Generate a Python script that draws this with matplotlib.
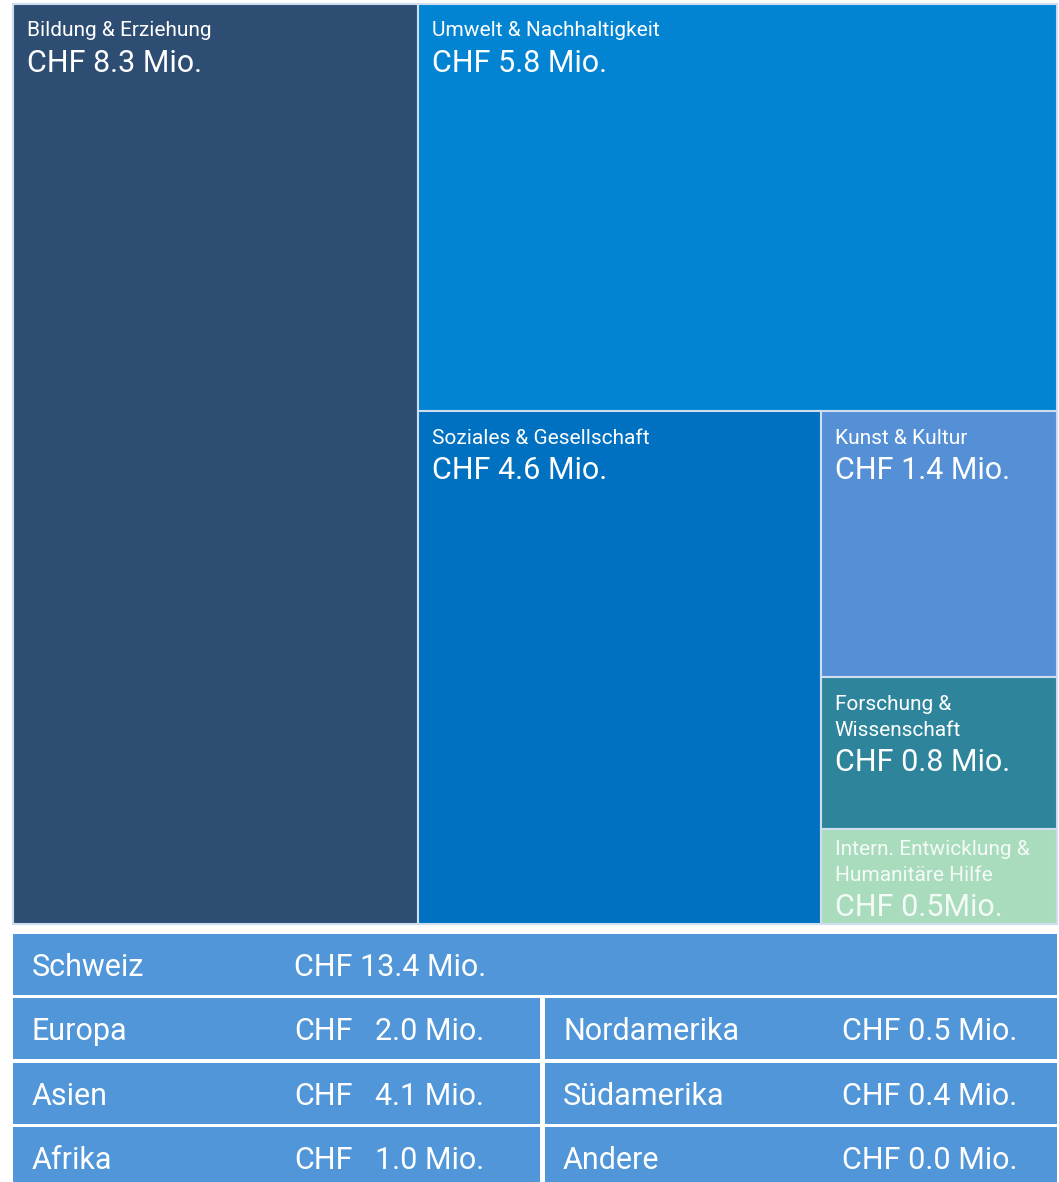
import matplotlib.pyplot as plt
from matplotlib.patches import Rectangle

plt.rcParams['font.family'] = ['Roboto', 'DejaVu Sans']

# Vergabungen nach Themen (CHF Mio.)
themen = ['Bildung & Erziehung', 'Umwelt & Nachhaltigkeit', 'Soziales & Gesellschaft',
          'Kunst & Kultur', 'Forschung &\nWissenschaft',
          'Intern. Entwicklung &\nHumanitäre Hilfe']
themen_werte = [8.3, 5.8, 4.6, 1.4, 0.8, 0.5]
themen_text = ['CHF 8.3 Mio.', 'CHF 5.8 Mio.', 'CHF 4.6 Mio.', 'CHF 1.4 Mio.',
               'CHF 0.8 Mio.', 'CHF 0.5Mio.']
themen_farben = ['#2d4d73', '#0284d2', '#0070c0', '#5590d6', '#2e849b', '#a9dcbd']

# Vergabungen nach Regionen
regionen_links = ['Schweiz', 'Europa', 'Asien', 'Afrika']
werte_links = [13.4, 2.0, 4.1, 1.0]
regionen_rechts = ['Nordamerika', 'Südamerika', 'Andere']
werte_rechts = [0.5, 0.4, 0.0]

W, H = 1059, 1182
fig = plt.figure(figsize=(W / 100, H / 100), dpi=100)
ax = fig.add_axes([0, 0, 1, 1])
ax.set_xlim(0, W)
ax.set_ylim(H, 0)
ax.axis('off')

# treemap box
x0, y0, bw, bh = 13, 4, 1044, 920


def layout(vals, x, y, w, h, vertical):
    # first three items alternate direction, the rest are stacked in the last strip
    rects = []
    for i, v in enumerate(vals):
        rest = sum(vals[i:])
        if i == len(vals) - 1:
            rects.append((x, y, w, h))
            break
        if vertical:
            ww = w * v / rest
            rects.append((x, y, ww, h))
            x, w = x + ww, w - ww
        else:
            hh = h * v / rest
            rects.append((x, y, w, hh))
            y, h = y + hh, h - hh
        if i < 3:
            vertical = not vertical
    return rects


rects = layout(themen_werte, x0, y0, bw, bh, True)

for (rx, ry, rw, rh), name, txt, col in zip(rects, themen, themen_text, themen_farben):
    ax.add_patch(Rectangle((rx, ry), rw, rh, facecolor=col, edgecolor='#cfdeee', lw=1.5))
    tc = 'white' if col != '#a9dcbd' else '#f4fbf7'
    lines = name.split('\n')
    # small boxes get their text pulled up so it fits
    cy = ry + (27 if rh > 110 else 20)
    for ln in lines:
        ax.text(rx + 14, cy, ln, color=tc, fontsize=15, va='center', ha='left')
        cy += 26
    ax.text(rx + 14, cy - 26 + 32, txt, color=tc, fontsize=22, va='center', ha='left')

# region table
tab_col = '#5096d8'
row_tops = [934, 998, 1063, 1127]
row_h = 61
for i, (name, val) in enumerate(zip(regionen_links, werte_links)):
    top = row_tops[i]
    cy = top + row_h / 2 + 3
    if i == 0:
        ax.add_patch(Rectangle((13, top), 1044, row_h, facecolor=tab_col, lw=0))
        ax.text(32, cy, name, color='white', fontsize=22, va='center')
        ax.text(294, cy, 'CHF %.1f Mio.' % val, color='white', fontsize=22, va='center')
    else:
        ax.add_patch(Rectangle((13, top), 527, row_h, facecolor=tab_col, lw=0))
        ax.text(32, cy, name, color='white', fontsize=22, va='center')
        ax.text(294, cy, 'CHF', color='white', fontsize=22, va='center')
        ax.text(484, cy, '%.1f Mio.' % val, color='white', fontsize=22, va='center', ha='right')

for i, (name, val) in enumerate(zip(regionen_rechts, werte_rechts)):
    top = row_tops[i + 1]
    cy = top + row_h / 2 + 3
    ax.add_patch(Rectangle((545, top), 512, row_h, facecolor=tab_col, lw=0))
    ax.text(563, cy, name, color='white', fontsize=22, va='center')
    ax.text(842, cy, 'CHF %.1f Mio.' % val, color='white', fontsize=22, va='center')

fig.savefig('out.png', dpi=100, facecolor='white')
